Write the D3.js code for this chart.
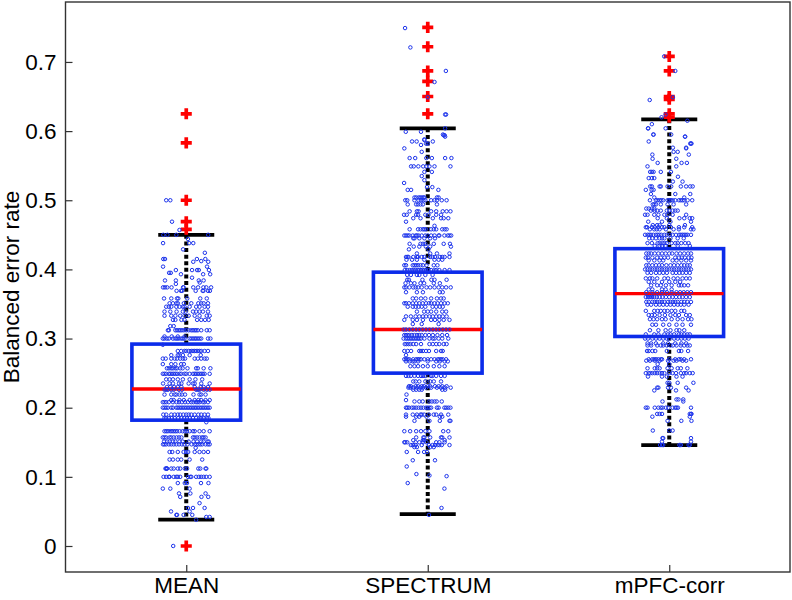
<!DOCTYPE html>
<html><head><meta charset="utf-8">
<script src="https://cdn.jsdelivr.net/npm/d3@7"></script>
<style>html,body{margin:0;padding:0;background:#fff}svg{display:block}text{font-family:"Liberation Sans",Arial,sans-serif;fill:#000}</style>
</head><body><svg id="c" width="792" height="600"></svg>
<script>
const categories=["MEAN","SPECTRUM","mPFC-corr"];
const yTicks=[0,0.1,0.2,0.3,0.4,0.5,0.6,0.7];
const q1=[0.182,0.25,0.303];
const medians=[0.227,0.313,0.365];
const q3=[0.292,0.396,0.43];
const whiskerLow=[0.038,0.046,0.146];
const whiskerHigh=[0.45,0.604,0.617];
const outliers=[[0,0.458,0.469,0.5,0.583,0.625],[0.625,0.65,0.672,0.687,0.722,0.75],[0.62,0.625,0.646,0.65,0.687,0.708]];
// rows: [value, jitter in thousandths of a category step...]
const meanRows=[
[0,-54],[.038,41],[.042,83,97],[.045,-41,-38,-11,25],[.05,-63,14],[.055,7,28,76],[.062,55],[.071,-25,63,91],[.076,-30,17,80],[.083,-97,-66,14],[.091,-35,-6,3,61,92],
[.1,-94,-83,-72,-69,-52,-41,-35,-25,7,17,21,41,52,62,72,83,97],[.112,-86,-80,-83,-80,-62,-52,-35,-25,-6,3,50,58,80,83],[.125,-69,-55,-35,-21,14,66],[.136,-69,-58,-35,-11,0,8,35,55,72,90],[.142,39],
[.147,-96,-90,-83,-72,-62,-52,-41,-30,-18,-8,5,22,35,42,50,58,66,80,90,97],[.151,-92,-79,-69,-55,-45,-28,-15,10,30,45,62,72,88,93],[.157,-97,-90,-83,-69,-62,-52,-40,-30,-20,28,35,45,55,66,72,80],
[.166,-90,-83,-76,-66,-59,-52,-45,-38,-28,-15,-6,3,14,28,35,55,72,97],[.179,83],[.185,-90,-83,-72,-60,-48,-33,-20,-8,3,14,28,41,55,62,72,85,92],[.19,-95,-83,-62,-48,-35,-25,-12,0,10,21,35,50,62,76,90],
[.2,-97,-90,-83,-76,-62,-55,-41,-35,-28,-21,-14,-7,0,7,14,21,28,35,41,48,55,62,69,76,83,90,97],[.208,-97,-90,-83,-72,-55,-40,-30,-18,-5,7,21,30,41,48,55,69,76,90],[.211,-62,-52,-28,-10,14,35,50,62,80,97],
[.219,-90,-62,-48,-41,-28,-18,-5,30,55,62,80],[.226,-90,-83,-76,-62,-52,-30,-18,41,48,55,72,85,97],[.23,-80,-66,-50,-35,-20,35,60,72,90],[.235,-96,-69,-55,-30,-20,10,28,35,62,97],[.241,-83,-69,-55,-35,-14,14,38,66],
[.249,-97,-90,-83,-72,-66,-59,-52,-45,-38,-28,-21,-7,0,14,28,35,41,48,55,62,69,76,97],[.257,-80,-72,-62,-55,-45,-38,-25,-15,5,41,48,72,100],[.263,-97,-62,-45,-21,-10],[.271,-97,-85,-62,-48,-38,-25,-14,-5,35,48,62,76,85],[.276,-62,-35,-28,-14,14,60],
[.282,-35,-21,-7,0,10,21,28,35,41,48,55,62,76,90],[.291,-97],[.3,-97,-90,-80,-72,-55,-45,-38,-31,-21,-14,-7,14,21,28,35,41,48,55,62,90,100],[.303,-90,-60,-35,-7],[.312,-76,-72,-45,-38,-31,-25,-18,-10,0,10,21,28,35,41,48,62,85,97],[.318,-66,-52],
[.327,-55,-45,-20,-7,45,62,78,93],[.333,-90,-62,-45,-25,-7,10,35,55,85,97],[.339,-90,-66,-40,-14,-2,28,41,55,69,90],[.346,-83,-72,-62,-41,-28,-14,-7,14,41,55,76,90],[.351,-69,-55,-41,-35,-10,21,50,62,72,90],
[.358,-92,-62,-38,-33,4,58,85],[.369,-40,-22,-17,39,68,71,90,98],[.374,-96,-88,-79,-61,-13,-11,29,49,71,83,103],[.381,56],[.384,-88,-43,52,72],[.379,-43],[.388,24],[.393,-22,70,99],[.395,-71,-64],[.399,-43,24,45,52,94],[.404,-96,86],
[.411,29,91],[.415,-95,-88,44,79],[.412,62],[.424,77],[.429,-13],[.438,12,29,-96],[.444,7],[.45,-95,-78,-41,91],[.457,-28],[.469,-59],[.5,-83,-66]];
const spectrumRows=[
[.045,5],[.055,57],[.083,69],[.091,-83],[.101,78],[.102,7],[.104,-47],[.115,-87],[.124,-62,30],[.136,-87,-40,-15,-3],[.143,-55,-45,10,25],[.146,-70,-62,-50,-25,5,20,30,41,48,58,90],[.15,-97,-93,-85,-50,-35,-20,-5,35,48,70],[.153,-60,-20,-15,70],[.157,-48,-18,-14,10,55,60,90],[.166,-97,-73,-48,-28,-10,7,64,85],
[.181,-55,7,50,90,94],[.187,-90,-48,-35,-5,60,50],[.19,-90,-62,-45,-30,-25,-15,5,25,35,55,85],[.2,-90,-85,-78,-66,-58,-48,-38,-28,-18,-7,0,7,14,38,45,69,76,85,94],[.209,-55,-35,-21,7,17,28,37,58],[.211,-90],[.219,-88],[.226,-60,-48,-35,-25,60,72],[.229,-80,-72,-60,-45,-30,-20,-7,14,38,55,72,95],
[.231,-78,-70,-50,-40,-25,-15,0,10,30,45,60,78],[.238,-60,-50,-35,-10,10,25,55],[.246,-90,-80,-70,-55,-40,-28,-20,-10,14,20,35,55,70],[.26,-72,-55,-40,-20,0,25,48,70],[.267,-90,-75,-62,-55,-40,0,35,50,70,83],[.27,-97,-90,-83,-76,-60,-48,-41,-35,-28,-14,0,14,28,41,48,55,62,76],[.276,-90],[.282,-97,-83,-69,-35,-28,-20,-7,5,35,55,62],
[.292,-95,-88,-80,-72,-60,-48,-28,7,21,35,48,66,78],[.3,-100,-90,-83,-76,-69,-62,-55,-48,-41,-35,-28,-14,7,21,28,45,60,85],[.305,-97,-90,-83,-76,-66,-55,-45,-35,-25,-10,5,21,40,60,80],[.313,-100,-90,-76,-62,-48,-35,-21,-7,7,21,35,48,62,76,90],[.321,-62,-25,45],[.327,-97,-62,-45,-20,14,30,48,66,90],[.332,-90,-70,-50,-35,-20,-7,7,21,35,48,62,78],[.339,-45,-15,0,14,35,60,76],
[.346,-83,-62,-50,-38,-25,-10,20,35,50,62],[.351,-97,-90,-78,-62,-48,-35,-21,-7,5,14,28,41,55,70,83],[.358,-62,-48,-28,-10,14,38,55,66],[.367,-90,-45,-20,50,62],[.374,-97,-90,-76,-60,-50,-40,-25,-5,10,28,45,60,76,95],[.38,-92,-70,-55,-30,-15,25,50],[.385,-85,-78,-22,15,28,78],[.392,-85,-70,-45,-35,-10,20],[.399,-95,-85,-75,-66,-58,-50,-41,-35,-28,-21,-14,-7,3,14,28,35,48,70,90],[.406,-97,-90,-62,-55,-48,-40,-30,-20,-5,25,40],[.414,-88,-65,-45,-14,28,45,60],
[.418,-90,-84,-45,-40,-14,10,30,60,-80,-60,-25,20,50,70,90],[.423,-45,10,38,90],[.429,-78,3],[.433,-58,-35,-8,10,96],[.437,-75,-30,-20,-10,25,66,92],[.445,-60,-55,-35,-14,10,30],[.449,-97,-90,-83,-76,-62,-50,-45,-38,-25,-10,0,14,28,45,48,69,83,90,97],[.458,-75,-40,-30,-20,-14,-8,14,25,35,60,70,78],[.463,28],[.469,-90],[.474,-60,-30,21,55,66,85],[.479,-98,-87,-48,-40,-10,3,35,55],[.484,-75,-45,-38,14,35,62,78,94],
[.494,-83,-48,-40,-30,-20,38],[.5,-93,-85,-55,-38,-28,-18,-10,14,28,38,58,78],[.504,-55,-48,-38,-31,-25,-18,-14,38,45],[.515,-69,-83,44],[.519,19,-3],[.525,-98],[.529,-14],[.535,-25],[.541,-14,17],[.549,-69,-58,-39,-19,-6,7,28,94],[.561,-75,-52,-6,17,72,98],[.57,-25],[.575,-97],[.58,-28],[.582,-7,0],[.585,-65,-46,21],[.587,-14],[.592,72],[.594,70,66],[.588,-14],[.595,63],[.599,-91,-28],[.604,72],[.624,72,76],[.649,0],[.671,28],[.687,75],[.721,-72],[.749,-94]];
const mpfcRows=[
[.146,-38,-30,-25,48,42,85,80],[.151,-30,90],[.156,-25,-28,90],[.167,-68,0,14],[.181,-7,50,92],[.187,-70,85],[.191,-50,-40,-30,90,92,85],[.2,-97,-90,-60,-45,-35,-28,-14,14,25,30,36,-4,90],[.209,-28,58],[.212,38,30,58],[.225,-62,28,80],[.229,-50,-45,-5,70,7],[.236,0,35,100,-7],
[.245,-88,-30,-10,30,55],[.25,-97,-85,-78,-70,-60,-50,-40,-30,-20,0,14,28,48,62,70,85,97],[.257,-90,-60,-50,-40,-7,10,35,48,75],[.263,-48,0],[.268,-95,-80,-60,-40,-5,18,30,55,70],[.27,-85,-70,-62,-55,-45,-35,-30,0,25,40,48,62,90],[.282,-92,-85,-70,-58,-10,40,50,78],[.29,-90,-75,-50,-35,-25,-10,5,15,30,48,62,75,85],
[.293,-90,-75,-55,-25,-5,25,50,70],[.3,-100,-88,-70,-55,-40,-25,-10,0,20,35,50,65,80],[.306,-97,-62,-45,-20,-5,5,20,40,50,62,75,85],[.312,-80,-45,-15,5,30,42,62],[.32,-70,-55,-25,0,30,55,90],[.328,-80,-65,-50,-30,-15,10,35,55,78,92],[.334,-85,-72,-60,-40,-18,5,25,40,70,85],[.34,-97,-62,-48,-35,-20,-7,10,25,50,62],
[.349,-90,-75,-55,-40,-25,-10,5,20,35,48,62,80],[.353,-95,-85,-70,-60,-50,-40,-30,-20,-5,5,15,25,35,50,62,75,90],[.36,-97,-88,-80,-72,-62,-52,-40,-28,-14,0,14,28,42,55,70,85],[.367,-95,-70,-50,-30,-10,10,30,45,60,75,90],[.371,-85,-70,-30,-15,10],[.377,-75,-50,-35,-14,10,40,50,62,78],[.382,-85,-62,-30,0,25,45],[.387,-97,-80,-70,-50,-20,-5,18,35,55,70,85],[.395,-90,-75,-55,-40,-25,-10,14,28,42,55,70,85],
[.4,-100,-90,-80,-70,-60,-50,-40,-30,-20,-10,0,10,20,30,40,50,60,70,80,90],[.406,-95,-85,-70,-55,-42,-30,-12,5,20,35,50,62,75,85],[.413,-85,-62,-40,-25,14,30,50,70,90],[.417,-97,-88,-70,-50,-35,-20,-5,25,40,52,65,80,92],[.423,-95,-85,-75,-60,-45,-30,-15,0,12,30,45,62,78,90],[.434,-60,-40,-30,-15,35,85],[.438,-90,-72,-48,-40,-28,-20,-10,10,25,35,50,66,80],[.445,-83,-70,-55,-40,-30,-20,5,35,60],
[.45,-100,-90,-83,-76,-66,-55,-48,-41,-33,-20,-10,3,14,28,41,48,55,62,69,76,90],[.458,-80,-62,-52,-40,-14,18,40,90,100],[.461,-97,-92,-72,-60,-45,-30,-20,7,40,62,95],[.464,-68,-50,-40,0,65],[.469,-87,-30,5,90],[.474,-48,-10,42,62,85,95],[.479,-100,-90,-62,-45,-20,-7,14,70],[.485,-76,-60,-50,-35,-10,0,14,25,35],[.488,-95,-85,-72,-62],[.494,-68,-62,-55,-35,-7,18,70],
[.5,-80,-55,-48,-40,-33,-25,-7,0,7,14,25,40,48,55,62,76,95],[.504,-62,62],[.509,-76,25,87],[.515,-97,-73,-65],[.52,-79,-72,-40,-35,-7,8,48,70,87,97],[.527,55,15],[.532,-85,-72,-62],[.534,36],[.541,-79,-72,-65,-35,7],[.549,-90,29],[.554,-48,51,73],[.56,-69,29],[.566,-70,81],[.57,18,35],[.575,70],[.576,15,70],[.582,87,92,90],[.585,-85],[.592,66,65],[.595,-65,-66,8],[.604,-88,-87,-15],[.61,-72],[.615,75],[.62,-32],[.624,-15],[.645,-81],[.649,15],[.687,25],[.708,-21]];
const pointRows=[meanRows,spectrumRows,mpfcRows];

const W=792,H=600,L=65.5,R=790,T=2,B=572;
const x=d3.scaleLinear().domain([0.5,3.5]).range([L,R]);
const y=d3.scaleLinear().domain([-0.0376,0.7867]).range([B,T]);
const svg=d3.select("#c");
const blue="#0b2bea",red="#ff0000",axisCol="#333333",dot="#1c33ec";
const group=categories.map((c,i)=>({c,i,pos:i+1}));
const boxHalf=0.225,capHalf=0.116;

// frame & axes
const gx=svg.append("g").attr("transform",`translate(0,${B})`).call(d3.axisBottom(x).tickValues([1,2,3]).tickFormat(d=>categories[d-1]).tickSizeInner(-7).tickSizeOuter(0).tickPadding(6));
const gy=svg.append("g").attr("transform",`translate(${L},0)`).call(d3.axisLeft(y).tickValues(yTicks).tickFormat(d=>d===0?"0":d3.format(".1f")(d)).tickSizeInner(-7).tickSizeOuter(0).tickPadding(9));
[gx,gy].forEach(g=>{g.selectAll("path").remove();g.selectAll("line").attr("stroke",axisCol).attr("stroke-width",1.2);g.selectAll("text").attr("font-size",22.5).attr("fill","#000");});
gx.selectAll("text").attr("dy","0.68em");
svg.append("rect").attr("x",L).attr("y",T).attr("width",R-L).attr("height",B-T).attr("fill","none").attr("stroke",axisCol).attr("stroke-width",1.4);
svg.append("text").attr("transform",`translate(19,287) rotate(-90)`).attr("text-anchor","middle").attr("font-size",22.5).text("Balanced error rate");

const g=svg.selectAll("g.box").data(group).join("g").attr("class","box");
// whiskers
g.append("line").attr("x1",d=>x(d.pos)).attr("x2",d=>x(d.pos)).attr("y1",d=>y(whiskerHigh[d.i])).attr("y2",d=>y(q3[d.i])).attr("stroke","#000").attr("stroke-width",4).attr("stroke-dasharray","4 2.6");
g.append("line").attr("x1",d=>x(d.pos)).attr("x2",d=>x(d.pos)).attr("y1",d=>y(q1[d.i])).attr("y2",d=>y(whiskerLow[d.i])).attr("stroke","#000").attr("stroke-width",4).attr("stroke-dasharray","4 2.6");
[whiskerHigh,whiskerLow].forEach(a=>g.append("line").attr("x1",d=>x(d.pos-capHalf)).attr("x2",d=>x(d.pos+capHalf)).attr("y1",d=>y(a[d.i])).attr("y2",d=>y(a[d.i])).attr("stroke","#000").attr("stroke-width",3.8));
// boxes
g.append("rect").attr("x",d=>x(d.pos-boxHalf)).attr("width",d=>x(d.pos+boxHalf)-x(d.pos-boxHalf)).attr("y",d=>y(q3[d.i])).attr("height",d=>y(q1[d.i])-y(q3[d.i])).attr("fill","none").attr("stroke",blue).attr("stroke-width",3.6);
g.append("line").attr("x1",d=>x(d.pos-boxHalf)).attr("x2",d=>x(d.pos+boxHalf)).attr("y1",d=>y(medians[d.i])).attr("y2",d=>y(medians[d.i])).attr("stroke",red).attr("stroke-width",3.4);
// outliers
const plus=d3.symbol().type(d3.symbolCross).size(68);
g.each(function(d){d3.select(this).selectAll("path.o").data(outliers[d.i]).join("path").attr("class","o").attr("d",plus).attr("fill",red).attr("transform",v=>`translate(${x(d.pos)},${y(v)})`);});
// points
g.each(function(d){
  const pts=pointRows[d.i].flatMap(r=>r.slice(1).map(j=>({v:r[0],j})));
  d3.select(this).selectAll("circle").data(pts).join("circle").attr("cx",p=>x(d.pos+p.j/1000)).attr("cy",p=>y(p.v)).attr("r",1.75).attr("fill","none").attr("stroke",dot).attr("stroke-width",1);
});
</script></body></html>
